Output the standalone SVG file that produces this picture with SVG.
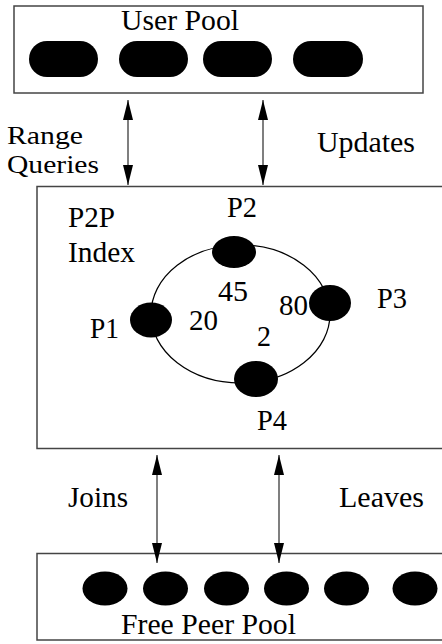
<svg xmlns="http://www.w3.org/2000/svg" width="442" height="644" viewBox="0 0 442 644">
<style>
.box{fill:#fff;stroke:#444;stroke-width:1.5}
.blob{fill:#000}
.ring{fill:none;stroke:#000;stroke-width:1.2}
.conn{stroke:#555;stroke-width:1.5;fill:none;marker-start:url(#ah);marker-end:url(#ah)}
text{font-family:"Liberation Serif","Times New Roman",serif;font-size:29px;fill:#000}
.tight{font-size:26px}
</style>
<defs>
<marker id="ah" markerUnits="userSpaceOnUse" markerWidth="20" markerHeight="10" viewBox="0 0 20 10" refX="20" refY="5" orient="auto-start-reverse">
<path d="M0,0 L20,5 L0,10 z" fill="#000"/>
</marker>
</defs>
<rect width="442" height="644" fill="#fff"/>
<g id="user-pool">
<rect class="box" x="14" y="6" width="409" height="87"/>
<text x="121" y="30" textLength="118" lengthAdjust="spacingAndGlyphs">User Pool</text>
<rect class="blob" x="29" y="41" width="69" height="36" rx="18"/>
<rect class="blob" x="119" y="41" width="69" height="36" rx="18"/>
<rect class="blob" x="203" y="41" width="69" height="36" rx="18"/>
<rect class="blob" x="293" y="41" width="70" height="36" rx="18"/>
</g>
<g id="p2p-index">
<rect class="box" x="37" y="186.5" width="420" height="262"/>
<text x="68" y="227" textLength="47" lengthAdjust="spacingAndGlyphs">P2P</text>
<text x="68" y="262" textLength="67" lengthAdjust="spacingAndGlyphs">Index</text>
<ellipse class="ring" cx="240.5" cy="314" rx="89.5" ry="69"/>
</g>
<g id="P1">
<ellipse class="blob" cx="151" cy="320" rx="21" ry="17.5"/>
<text x="90" y="338" textLength="29" lengthAdjust="spacingAndGlyphs">P1</text>
<text x="189" y="330" textLength="29" lengthAdjust="spacingAndGlyphs">20</text>
</g>
<g id="P2">
<ellipse class="blob" cx="234" cy="252" rx="22" ry="16"/>
<text x="227" y="217" textLength="30" lengthAdjust="spacingAndGlyphs">P2</text>
<text x="218" y="301" textLength="30" lengthAdjust="spacingAndGlyphs">45</text>
</g>
<g id="P3">
<ellipse class="blob" cx="330" cy="303" rx="21" ry="18"/>
<text x="377" y="308" textLength="30" lengthAdjust="spacingAndGlyphs">P3</text>
<text x="279" y="315" textLength="29" lengthAdjust="spacingAndGlyphs">80</text>
</g>
<g id="P4">
<ellipse class="blob" cx="256" cy="379" rx="22" ry="18"/>
<text x="257" y="430" textLength="30" lengthAdjust="spacingAndGlyphs">P4</text>
<text x="257" y="346" textLength="14" lengthAdjust="spacingAndGlyphs">2</text>
</g>
<g id="free-peer-pool">
<rect class="box" x="37" y="553.5" width="420" height="86.5"/>
<ellipse class="blob" cx="105" cy="588.5" rx="22.5" ry="17"/>
<ellipse class="blob" cx="165.5" cy="588.5" rx="22.5" ry="17"/>
<ellipse class="blob" cx="226.5" cy="588.5" rx="22.5" ry="17"/>
<ellipse class="blob" cx="286.5" cy="588.5" rx="22.5" ry="17"/>
<ellipse class="blob" cx="346.5" cy="588.5" rx="22.5" ry="17"/>
<ellipse class="blob" cx="415" cy="588.5" rx="22.5" ry="17"/>
<text x="121" y="634" textLength="175" lengthAdjust="spacingAndGlyphs">Free Peer Pool</text>
</g>
<g id="connectors">
<line class="conn" x1="128" y1="100" x2="128" y2="185"/>
<line class="conn" x1="263" y1="100" x2="263" y2="185"/>
<line class="conn" x1="157" y1="455" x2="157" y2="563"/>
<line class="conn" x1="279" y1="455" x2="279" y2="563"/>
<text class="tight" x="7" y="144" textLength="76" lengthAdjust="spacingAndGlyphs">Range</text>
<text class="tight" x="7" y="173" textLength="92" lengthAdjust="spacingAndGlyphs">Queries</text>
<text x="317" y="152" textLength="98" lengthAdjust="spacingAndGlyphs">Updates</text>
<text x="68" y="507" textLength="60" lengthAdjust="spacingAndGlyphs">Joins</text>
<text x="339" y="507" textLength="85" lengthAdjust="spacingAndGlyphs">Leaves</text>
</g>
</svg>
